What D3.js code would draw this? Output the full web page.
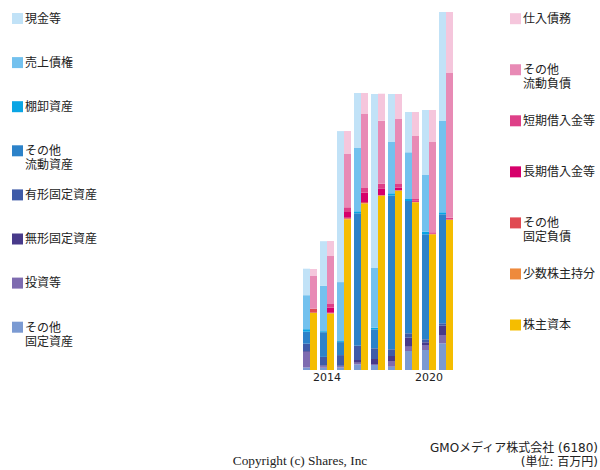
<!DOCTYPE html>
<html><head><meta charset="utf-8">
<script src="https://cdn.jsdelivr.net/npm/d3@7"></script>
<style>
body{margin:0;background:#fff;}
text{font-family:"DejaVu Sans","Noto Sans CJK JP",sans-serif;}
</style></head>
<body><svg id="c" width="600" height="470"></svg>
<script>
const years = ["2013","2014","2015","2016","2017","2018","2019","2020","2021"];
const tickYears = ["2014","2020"];

// 資産 (百万円)
const cash         = [265, 447, 1510, 550, 1740, 480, 403, 650, 1090];
const receivables  = [340, 453, 590, 633, 597, 513, 467, 567, 913];
const inventory    = [25, 10, 10, 20, 16, 23, 20, 26, 20];
const otherCurrent = [120, 247, 130, 1324, 190, 1537, 1323, 1050, 1090];
const tangible     = [75, 85, 107, 143, 107, 67, 44, 30, 24];
const intangible   = [8, 10, 7, 27, 50, 50, 90, 27, 93];
const investments  = [155, 13, 10, 16, 10, 57, 43, 50, 83];
const otherFixed   = [25, 23, 25, 57, 50, 33, 190, 200, 267];

// 負債・純資産 (百万円)
const payables        = [70, 150, 230, 210, 270, 250, 240, 320, 610];
const otherCurLiab    = [327, 480, 533, 740, 630, 650, 630, 903, 1447];
const shortBorrow     = [0, 37, 47, 47, 47, 35, 17, 10, 16];
const longBorrow      = [0, 50, 57, 93, 66, 25, 10, 5, 0];
const otherFixedLiab  = [40, 5, 10, 10, 5, 5, 3, 3, 5];
const minority        = [0, 5, 6, 7, 5, 5, 3, 2, 2];
const equity          = [573, 563, 1507, 1663, 1740, 1790, 1677, 1357, 1500];

const assetNames = ["現金等","売上債権","棚卸資産","その他\n流動資産","有形固定資産","無形固定資産","投資等","その他\n固定資産"];
const assetColors = ["#c1e2f7","#73c1ee","#0aa5e4","#2c82c9","#3f5ba8","#483a8a","#7e6bb0","#7b9ad2"];
const assetSeries = [cash, receivables, inventory, otherCurrent, tangible, intangible, investments, otherFixed];

const liabNames = ["仕入債務","その他\n流動負債","短期借入金等","長期借入金等","その他\n固定負債","少数株主持分","株主資本"];
const liabColors = ["#f5c6dc","#e88ab5","#de4088","#d6006b","#e04a52","#ee8a3c","#f5bd00"];
const liabSeries = [payables, otherCurLiab, shortBorrow, longBorrow, otherFixedLiab, minority, equity];

const svg = d3.select("#c");

const totals = years.map((y,i)=>Math.max(d3.sum(assetSeries,s=>s[i]), d3.sum(liabSeries,s=>s[i])));
const yScale = d3.scaleLinear().domain([0, d3.max(totals)]).range([370, 12]);
const x = d3.scaleBand().domain(years).range([301.5, 454.5]).paddingInner(3/17).paddingOuter(1.5/17);
const half = x.bandwidth()/2;

function drawStack(series, colors, offset){
  years.forEach((yr,i)=>{
    let base = 0;
    for(let k=series.length-1;k>=0;k--){
      const v = series[k][i];
      if(v>0){
        svg.append("rect")
          .attr("x", x(yr)+offset)
          .attr("width", half)
          .attr("y", yScale(base+v))
          .attr("height", yScale(base)-yScale(base+v))
          .attr("fill", colors[k]);
      }
      base += v;
    }
  });
}
drawStack(assetSeries, assetColors, 0);
drawStack(liabSeries, liabColors, half);

const axis = d3.axisBottom(x).tickValues(tickYears).tickSize(0).tickPadding(3);
const ax = svg.append("g").attr("transform","translate(0,370)").call(axis);
ax.select(".domain").remove();
ax.selectAll("text").attr("font-size","11px").attr("fill","#222")
  .style("font-family",'"DejaVu Sans",sans-serif');

function legend(names, colors, sx, tx, y0, dy){
  names.forEach((n,i)=>{
    const cy = y0 + i*dy;
    svg.append("rect").attr("x",sx).attr("y",cy-5.5).attr("width",11).attr("height",11).attr("fill",colors[i]);
    n.split("\n").forEach((line,j)=>{
      svg.append("text").attr("x",tx).attr("y",cy + j*14 + 4.3).attr("font-size","12px").attr("fill","#222").text(line);
    });
  });
}
legend(assetNames, assetColors, 12, 25, 18.5, 44.1);
legend(liabNames, liabColors, 510, 523, 18.7, 51.05);

svg.append("text").attr("x",598).attr("y",452).attr("text-anchor","end").attr("font-size","12px").attr("fill","#222").text("GMOメディア株式会社 (6180)");
svg.append("text").attr("x",598).attr("y",466).attr("text-anchor","end").attr("font-size","12px").attr("fill","#222").text("(単位: 百万円)");
svg.append("text").attr("x",300).attr("y",465).attr("text-anchor","middle").attr("font-size","13.3px").attr("fill","#222")
  .style("font-family",'"Liberation Serif","Times New Roman",serif').text("Copyright (c) Shares, Inc");
</script></body></html>
